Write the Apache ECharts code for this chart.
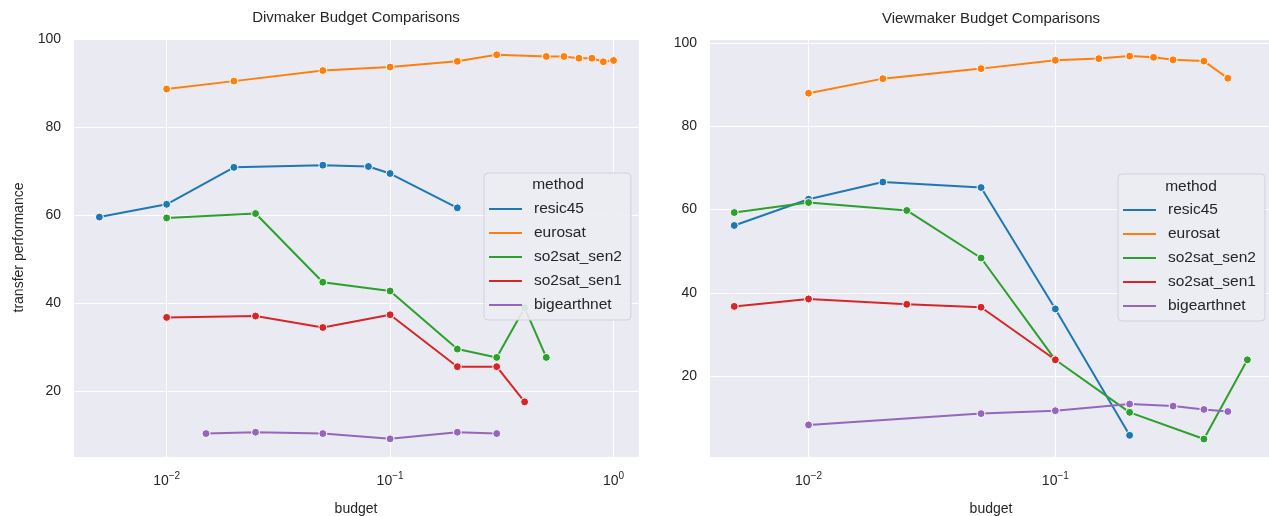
<!DOCTYPE html>
<html>
<head>
<meta charset="utf-8">
<script src="https://cdn.jsdelivr.net/npm/echarts@6/dist/echarts.min.js"></script>
<style>
  html, body { margin: 0; padding: 0; background: #fff; }
  #chart { width: 1269px; height: 516px; }
</style>
</head>
<body>
<div id="chart"></div>
<script>
const methods = ['resic45', 'eurosat', 'so2sat_sen2', 'so2sat_sen1', 'bigearthnet']
const colors = ['#1f77b4', '#ff7f0e', '#2ca02c', '#d62728', '#9467bd']

// Divmaker panel (left)
const divResicX = [0.005, 0.01, 0.02, 0.05, 0.08, 0.1, 0.2]
const divResicY = [59.5, 62.4, 70.8, 71.3, 71.0, 69.4, 61.6]
const divEuroX = [0.01, 0.02, 0.05, 0.1, 0.2, 0.3, 0.5, 0.6, 0.7, 0.8, 0.9, 1.0]
const divEuroY = [88.6, 90.4, 92.8, 93.6, 94.9, 96.4, 96.0, 96.0, 95.6, 95.6, 94.8, 95.1]
const divSen2X = [0.01, 0.025, 0.05, 0.1, 0.2, 0.3, 0.4, 0.5]
const divSen2Y = [59.3, 60.3, 44.7, 42.7, 29.5, 27.6, 38.9, 27.6]
const divSen1X = [0.01, 0.025, 0.05, 0.1, 0.2, 0.3, 0.4]
const divSen1Y = [36.7, 37.0, 34.4, 37.3, 25.5, 25.5, 17.5]
const divBigX = [0.015, 0.025, 0.05, 0.1, 0.2, 0.3]
const divBigY = [10.3, 10.6, 10.3, 9.1, 10.6, 10.3]

// Viewmaker panel (right)
const viewResicX = [0.005, 0.01, 0.02, 0.05, 0.1, 0.2]
const viewResicY = [56.2, 62.5, 66.6, 65.3, 36.2, 5.9]
const viewEuroX = [0.01, 0.02, 0.05, 0.1, 0.15, 0.2, 0.25, 0.3, 0.4, 0.5]
const viewEuroY = [87.9, 91.4, 93.8, 95.8, 96.2, 96.8, 96.5, 95.9, 95.6, 91.5]
const viewSen2X = [0.005, 0.01, 0.025, 0.05, 0.1, 0.2, 0.4, 0.6]
const viewSen2Y = [59.3, 61.7, 59.8, 48.4, 24.0, 11.4, 5.0, 24.0]
const viewSen1X = [0.005, 0.01, 0.025, 0.05, 0.1]
const viewSen1Y = [36.8, 38.6, 37.3, 36.6, 24.0]
const viewBigX = [0.01, 0.05, 0.1, 0.2, 0.3, 0.4, 0.5]
const viewBigY = [8.4, 11.1, 11.8, 13.4, 12.9, 12.1, 11.6]

const divData = [[divResicX, divResicY], [divEuroX, divEuroY], [divSen2X, divSen2Y], [divSen1X, divSen1Y], [divBigX, divBigY]]
const viewData = [[viewResicX, viewResicY], [viewEuroX, viewEuroY], [viewSen2X, viewSen2Y], [viewSen1X, viewSen1Y], [viewBigX, viewBigY]]

const font = 'Liberation Sans, Arial, sans-serif'
const textColor = '#262626'

function zip(xs, ys) {
  return xs.map((x, i) => [x, ys[i]])
}

function makeSeries(data, idx) {
  return data.map(([xs, ys], i) => ({
    name: methods[i],
    type: 'line',
    xAxisIndex: idx,
    yAxisIndex: idx,
    data: zip(xs, ys),
    color: colors[i],
    symbol: 'circle',
    symbolSize: 8,
    lineStyle: { color: colors[i], width: 2 },
    itemStyle: { color: colors[i], borderColor: '#fff', borderWidth: 1 },
    emphasis: { disabled: true }
  }))
}

function logLabel(v) {
  const e = Math.log10(v)
  const r = Math.round(e)
  if (Math.abs(e - r) > 1e-6) return ''
  return '{b|10}{s|' + (r < 0 ? '\u2212' + (-r) : r) + '}'
}

function xAxis(idx, min, max) {
  return {
    type: 'log',
    logBase: 10,
    gridIndex: idx,
    min: min,
    max: max,
    splitNumber: 3,
    name: 'budget',
    nameLocation: 'middle',
    nameGap: 45,
    nameTextStyle: { fontFamily: font, fontSize: 14, color: textColor },
    axisLine: { show: false },
    axisTick: { show: false },
    minorTick: { show: false },
    splitLine: { show: true, lineStyle: { color: '#fff', width: 1 } },
    axisLabel: {
      margin: 14,
      formatter: logLabel,
      rich: {
        b: { fontFamily: font, fontSize: 14, color: textColor },
        s: { fontFamily: font, fontSize: 10, color: textColor, padding: [0, 0, 10, 0] }
      }
    }
  }
}

function yAxis(idx, min, max, name) {
  return {
    type: 'value',
    gridIndex: idx,
    min: min,
    max: max,
    splitNumber: 5,
    name: name,
    nameLocation: 'middle',
    nameGap: 47,
    nameTextStyle: { fontFamily: font, fontSize: 14, color: textColor },
    axisLine: { show: false },
    axisTick: { show: false },
    splitLine: { show: true, lineStyle: { color: '#fff', width: 1 } },
    axisLabel: {
      margin: 12,
      fontFamily: font,
      fontSize: 14,
      color: textColor,
      formatter: v => (Math.abs(v % 20) < 1e-9 ? String(v) : '')
    }
  }
}

function legend(left, top) {
  return {
    data: methods,
    orient: 'vertical',
    left: left,
    top: top,
    icon: 'rect',
    itemWidth: 33,
    itemHeight: 2,
    itemGap: 8,
    itemStyle: { borderWidth: 0 },
    padding: [28, 9, 7, 5],
    backgroundColor: 'rgba(236,236,243,0.9)',
    borderColor: '#d2d2da',
    borderWidth: 1,
    borderRadius: 4,
    selectedMode: false,
    textStyle: { fontFamily: font, fontSize: 15.5, color: textColor, lineHeight: 16, padding: [0, 0, 0, 7] }
  }
}

function label(x, y, text, size) {
  return {
    type: 'text',
    x: x,
    y: y,
    z: 100,
    style: { text: text, fontFamily: font, fontSize: size, fill: textColor, align: 'center', verticalAlign: 'middle' }
  }
}

const chart = echarts.init(document.getElementById('chart'))
chart.setOption({
  animation: false,
  backgroundColor: '#fff',
  grid: [
    { left: 73, right: 630, top: 38, bottom: 59, outerBoundsMode: 'none', show: true, backgroundColor: '#eaeaf2', borderWidth: 0 },
    { left: 709, right: -4, top: 39, bottom: 59, outerBoundsMode: 'none', show: true, backgroundColor: '#eaeaf2', borderWidth: 0 }
  ],
  xAxis: [xAxis(0, 0.00381, 1.30), xAxis(1, 0.00395, 0.762)],
  yAxis: [yAxis(0, 4.97, 100.2, 'transfer performance'), yAxis(1, 0.7, 100.9, '')],
  legend: [legend(484, 173), legend(1118, 174)],
  graphic: [
    label(356, 18, 'Divmaker Budget Comparisons', 15),
    label(991, 19, 'Viewmaker Budget Comparisons', 15),
    label(558, 185, 'method', 15.5),
    label(1191, 187, 'method', 15.5)
  ],
  series: makeSeries(divData, 0).concat(makeSeries(viewData, 1))
})
</script>
</body>
</html>
